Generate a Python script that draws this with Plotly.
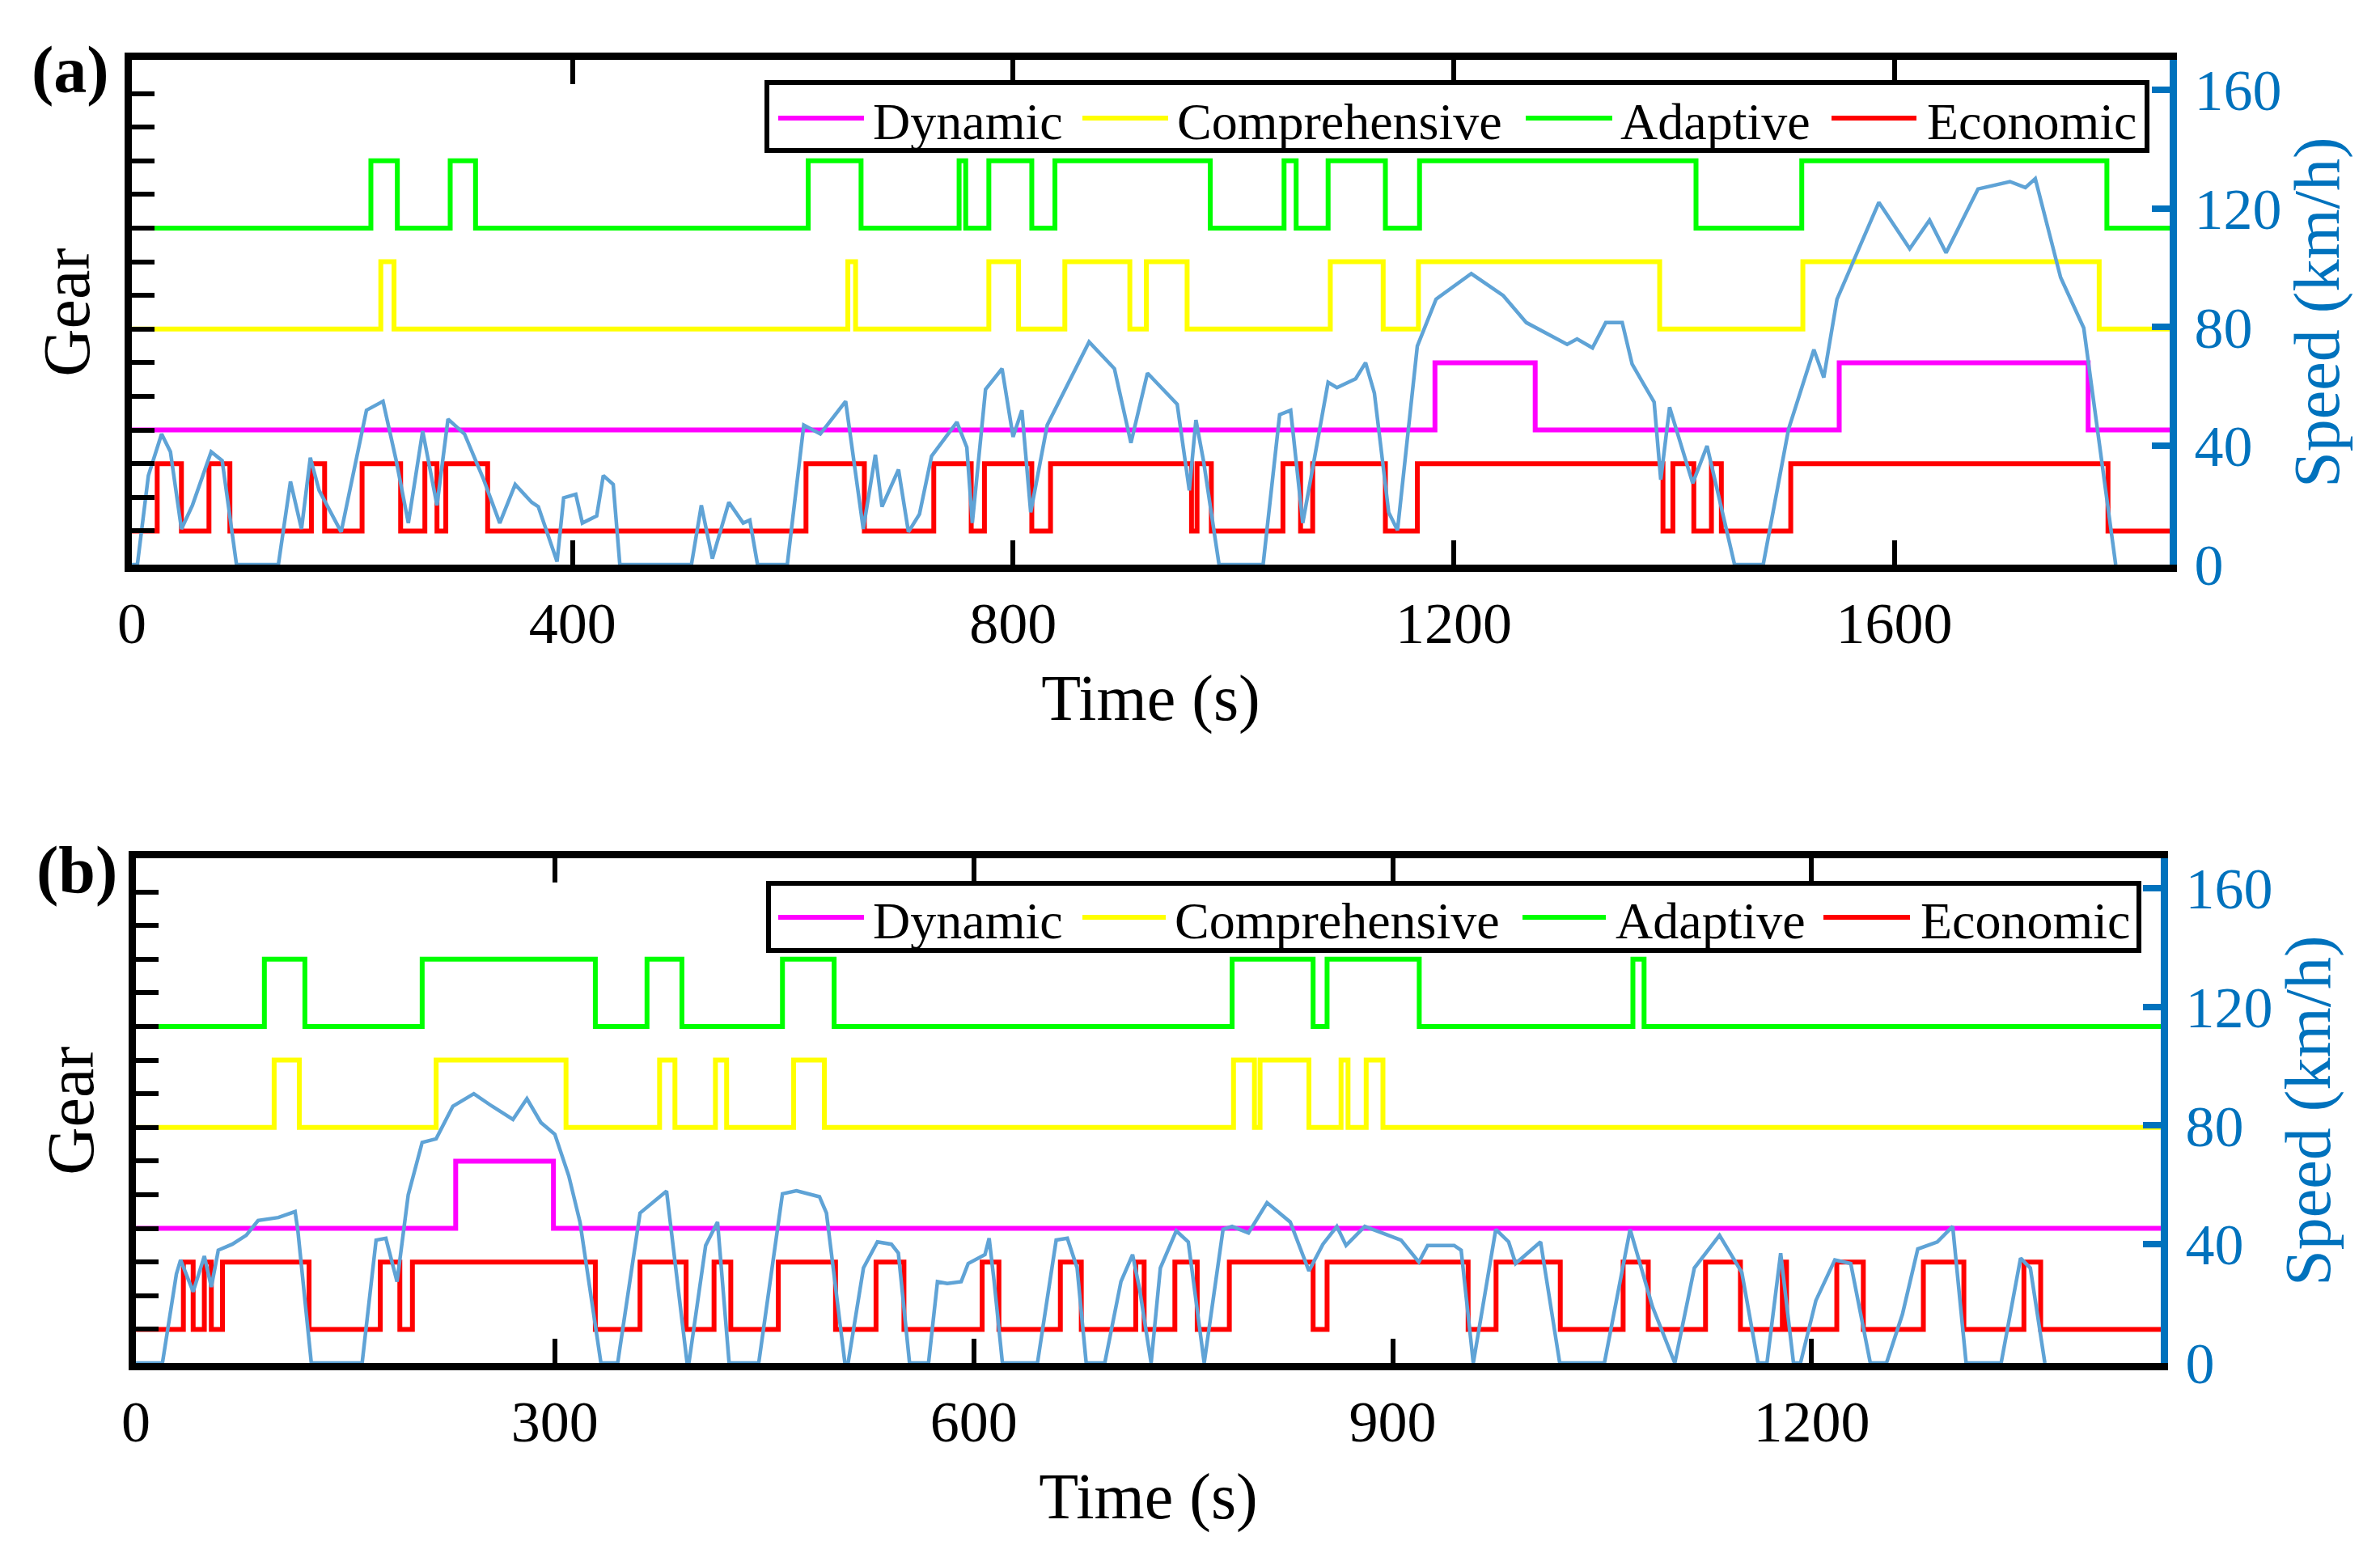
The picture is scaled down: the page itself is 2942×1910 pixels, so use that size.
import plotly.graph_objects as go

# ---------------- data ----------------
# Panel (a): gear change points (time s, gear-level value)
a_dyn_t = [0, 1183, 1274, 1550, 1776, 1850]
a_dyn_g = [4, 6, 4, 6, 4, 4]

a_com_t = [0, 226, 238, 650, 657, 778, 805, 847, 906, 921, 958, 1088, 1136, 1168, 1387, 1517, 1786, 1850]
a_com_g = [7, 9, 7, 9, 7, 9, 7, 9, 7, 9, 7, 9, 7, 9, 7, 9, 7, 7]

a_ada_t = [0, 217, 241, 289, 312, 614, 662, 751, 757, 778, 817, 838, 979, 1046, 1057, 1086, 1138, 1169,
           1420, 1516, 1793, 1850]
a_ada_g = [10, 12, 10, 12, 10, 12, 10, 12, 10, 12, 10, 12, 10, 12, 10, 12, 10, 12, 10, 12, 10, 10]

a_eco_t = [0, 23, 45, 70, 89, 163, 175, 209, 244, 266, 277, 285, 323, 612, 665, 728, 762, 774, 817, 834,
           962, 967, 980, 1045, 1061, 1072, 1138, 1167, 1390, 1399, 1418, 1434, 1443, 1506, 1794, 1850]
a_eco_g = [1, 3, 1, 3, 1, 3, 1, 3, 1, 3, 1, 3, 1, 3, 1, 3, 1, 3, 1, 3,
           1, 3, 1, 3, 1, 3, 1, 3, 1, 3, 1, 3, 1, 3, 1, 1]

# Panel (a): vehicle speed (km/h)
a_spd_t = [0, 5, 15, 27, 35, 45, 55, 72, 82, 95, 133, 144, 154, 162, 170, 190, 213, 228, 240, 251,
           264, 277, 287, 302, 319, 334, 348, 363, 369, 386, 392, 403, 409, 422, 428, 437, 443, 508,
           517, 527, 542, 555, 561, 568, 595, 610, 625, 648, 664, 675, 681, 696, 705, 715, 726, 749,
           758, 763, 775, 790, 800, 808, 816, 831, 869, 892, 907, 922, 949, 960, 966, 973, 987, 1027,
           1042, 1052, 1063, 1086, 1094, 1111, 1120, 1128, 1141, 1149, 1167, 1184, 1216, 1245, 1266,
           1303, 1312, 1326, 1338, 1353, 1362, 1382, 1388, 1396, 1417, 1430, 1455, 1481, 1504, 1527,
           1536, 1548, 1586, 1614, 1632, 1647, 1676, 1705, 1719, 1728, 1751, 1772, 1801]
a_spd_v = [0, 0, 30, 44, 38, 12, 20, 38, 35, 0, 0, 28, 12, 36, 25, 11, 52, 55, 35, 14,
           45, 20, 49, 44, 29, 14, 27, 21, 19.5, 1, 22.5, 23.7, 14, 16.4, 30, 27, 0, 0,
           20, 2, 21, 14, 15, 0, 0, 47, 44, 55, 12, 37, 19.5, 32, 11, 17, 36.5, 48,
           39.5, 14, 59, 66, 43, 52, 17.6, 47, 75, 66, 41, 64.5, 54, 25, 48.7, 34.7, 0, 0,
           50.5, 52, 14, 61.4, 59.6, 62.6, 68, 57.8, 17.6, 11.6, 73.6, 89.4, 98, 90.6, 81.5,
           74.2, 76, 73, 81.5, 81.5, 67.5, 54.7, 28.6, 53, 27.4, 40, 0, 0, 45.6, 72.4,
           63, 89.4, 122, 106.4, 116, 105, 126.5, 129, 127, 130, 96.7, 79.7, 0]

# Panel (b): gear change points
b_dyn_t = [0, 229, 299, 1450]
b_dyn_g = [4, 6, 4, 4]

b_com_t = [0, 99, 117, 215, 308, 375, 386, 415, 423, 471, 493, 786, 801, 805, 840, 863, 868, 881, 893, 1450]
b_com_g = [7, 9, 7, 9, 7, 9, 7, 9, 7, 9, 7, 9, 7, 9, 7, 9, 7, 9, 7, 7]

b_ada_t = [0, 92, 121, 205, 329, 366, 391, 463, 500, 785, 843, 853, 919, 1072, 1080, 1450]
b_ada_g = [10, 12, 10, 12, 10, 12, 10, 12, 10, 12, 10, 12, 10, 12, 10, 10]

b_eco_t = [0, 34, 41, 49, 54, 62, 124, 175, 189, 198, 329, 361, 394, 414, 426, 460, 501, 530, 550, 606,
           618, 662, 677, 716, 722, 744, 760, 783, 843, 853, 954, 974, 1020, 1065, 1083, 1124, 1149,
           1179, 1182, 1218, 1237, 1280, 1309, 1352, 1364, 1450]
b_eco_g = [1, 3, 1, 3, 1, 3, 1, 3, 1, 3, 1, 3, 1, 3, 1, 3, 1, 3, 1, 3,
           1, 3, 1, 3, 1, 3, 1, 3, 1, 3, 1, 3, 1, 3, 1, 3, 1,
           3, 1, 3, 1, 3, 1, 3, 1, 1]

# Panel (b): vehicle speed (km/h)
b_spd_t = [0, 19, 29, 32, 41, 49, 54, 59, 69, 79, 87.5, 102, 114, 116, 125.6, 162, 172, 179, 187, 195,
           205, 215, 227, 242, 255, 270, 280, 290, 300, 310, 318, 333, 345, 361, 380, 394.7, 396, 408,
           416.5, 424.8, 446, 463, 473, 489.5, 494.5, 507.7, 510, 521, 531, 541, 546, 554, 567.6, 574,
           581, 591, 596, 608, 611, 614.6, 620.5, 645.6, 659, 667, 674, 680.5, 693.8, 705.4, 713.7,
           718.7, 727, 733.6, 745, 753.6, 765, 778.5, 785, 796.7, 810, 826.6, 840, 850, 860, 866.6,
           880, 893, 906, 918.7, 925, 944, 949, 957.7, 973.8, 983, 988, 1005.9, 1019.6, 1051.6, 1070,
           1086, 1102, 1116, 1134, 1150, 1161.6, 1168, 1177.8, 1187, 1192, 1203, 1216.6, 1228, 1242,
           1253.6, 1265, 1276, 1290, 1301, 1310.6, 1335.7, 1349.6, 1356.6, 1367]
b_spd_v = [0, 0, 30, 34.7, 24, 36, 25.6, 38, 40, 43, 48, 49, 51, 44.5, 0, 0, 41.4, 42, 27.4, 56.6,
           74.3, 75.5, 86.5, 90.7, 86.5, 82, 89, 81, 77, 63, 47.5, 0, 0, 50.5, 57.9, 0, 0, 39.6,
           47.5, 0, 0, 57, 58, 56, 50.5, 0, 0, 32, 40.8, 40, 37, 0, 0, 27.4,
           26.8, 27.4, 33.5, 36.5, 42, 27.4, 0, 0, 41.4, 42, 32, 0, 0, 27.4, 36.5,
           25, 0, 32, 44.5, 40.8, 0, 45, 46, 43.8, 54, 47.5, 31, 40, 46, 39.6,
           46, 43.8, 41.4, 34, 39.6, 39.6, 38, 0, 45, 40.8, 33.5, 40.8, 0, 0, 45,
           19, 0, 32, 43, 30.5, 0, 0, 37, 0, 0, 21, 34.7, 33.5, 0,
           0, 16.4, 38.4, 40.8, 46, 0, 0, 35.3, 32, 0]

# series names / colours
names = ["Dynamic", "Comprehensive", "Adaptive", "Economic"]
colors = ["#FF00FF", "#FFFF00", "#00FF00", "#FF0000"]
speed_color = "#5FA3D6"
axis_blue = "#0072BD"

# ---------------- figure ----------------
W, H = 2942, 1910
FONT = "Liberation Serif"


def px(x):
    return x / W


def py(y):
    return 1 - y / H


fig = go.Figure()

panels = [
    (("x", "y", "y2"), [(a_dyn_t, a_dyn_g), (a_com_t, a_com_g), (a_ada_t, a_ada_g), (a_eco_t, a_eco_g)],
     (a_spd_t, a_spd_v)),
    (("x2", "y3", "y4"), [(b_dyn_t, b_dyn_g), (b_com_t, b_com_g), (b_ada_t, b_ada_g), (b_eco_t, b_eco_g)],
     (b_spd_t, b_spd_v)),
]

for (xa, yg, ys), gears, spd in panels:
    for (t, g), nm, c in zip(gears, names, colors):
        fig.add_trace(go.Scatter(x=t, y=g, mode="lines", line=dict(color=c, width=6, shape="hv"),
                                 name=nm, showlegend=False, xaxis=xa, yaxis=yg))
    fig.add_trace(go.Scatter(x=spd[0], y=spd[1], mode="lines", line=dict(color=speed_color, width=4.5),
                             name="Speed", showlegend=False, xaxis=xa, yaxis=ys))

tickfont = dict(family=FONT, size=72, color="black")
titlefont = dict(family=FONT, size=80, color="black")


def xaxis_cfg(dom, anchor, rng, tv):
    return dict(domain=dom, anchor=anchor, range=rng, tickvals=tv, ticks="inside", ticklen=30,
                tickwidth=6, tickcolor="black", mirror="ticks", showline=True, linecolor="black",
                linewidth=9, showgrid=False, zeroline=False, tickfont=tickfont, automargin=False,
                ticklabelstandoff=2,
                title=dict(text="Time (s)", font=titlefont, standoff=27))


def gear_cfg(dom, anchor):
    return dict(domain=dom, anchor=anchor, range=[0, 15], tick0=0, dtick=1, ticks="inside", ticklen=28,
                tickwidth=6, tickcolor="black", showticklabels=False, showline=True, linecolor="black",
                linewidth=9, showgrid=False, zeroline=False, automargin=False,
                title=dict(text="Gear", font=dict(family=FONT, size=82, color="black"), standoff=20))


def speed_cfg(over, anchor):
    return dict(overlaying=over, anchor=anchor, side="right", range=[0, 170], tickvals=[0, 40, 80, 120, 160],
                ticks="inside", ticklen=22, tickwidth=8, tickcolor=axis_blue, showline=True,
                linecolor=axis_blue, linewidth=9, showgrid=False, zeroline=False, automargin=False,
                tickfont=dict(family=FONT, size=72, color=axis_blue), ticklabelstandoff=7,
                title=dict(text="Speed (km/h)", font=dict(family=FONT, size=80, color=axis_blue), standoff=12))


fig.update_layout(
    width=W, height=H, margin=dict(l=0, r=0, t=0, b=0, autoexpand=False),
    paper_bgcolor="white", plot_bgcolor="white", showlegend=False,
    xaxis=xaxis_cfg([px(163), px(2682)], "y", [0, 1850], [0, 400, 800, 1200, 1600]),
    yaxis=gear_cfg([py(698), py(74)], "x"),
    yaxis2=speed_cfg("y", "x"),
    xaxis2=xaxis_cfg([px(168), px(2671)], "y3", [0, 1450], [0, 300, 600, 900, 1200]),
    yaxis3=gear_cfg([py(1685), py(1061)], "x2"),
    yaxis4=speed_cfg("y3", "x2"),
)

# ---------------- legends (drawn boxes) ----------------
shapes = []
annotations = []
legend_specs = [
    ((948, 102, 2654, 186), 146, [(962, 1068, 1077), (1338, 1444, 1453), (1886, 1993, 2001), (2264, 2369, 2380)]),
    ((950, 1092, 2644, 1175), 1134, [(962, 1068, 1077), (1338, 1441, 1450), (1882, 1985, 1995), (2254, 2361, 2372)]),
]
for (x0, y0, x1, y1), yc, items in legend_specs:
    shapes.append(dict(type="rect", xref="paper", yref="paper", x0=px(x0), x1=px(x1), y0=py(y1), y1=py(y0),
                       fillcolor="white", line=dict(color="black", width=6), layer="above"))
    for (lx0, lx1, tx), nm, c in zip(items, names, colors):
        shapes.append(dict(type="line", xref="paper", yref="paper", x0=px(lx0), x1=px(lx1), y0=py(yc), y1=py(yc),
                           line=dict(color=c, width=6), layer="above"))
        annotations.append(dict(text=nm, xref="paper", yref="paper", x=px(tx), y=py(yc + 4), xanchor="left",
                                yanchor="middle", showarrow=False, font=dict(family=FONT, size=64, color="black")))

annotations.append(dict(text="<b>(a)</b>", xref="paper", yref="paper", x=px(87), y=py(87), xanchor="center",
                        yanchor="middle", showarrow=False, font=dict(family=FONT, size=82, color="black")))
annotations.append(dict(text="<b>(b)</b>", xref="paper", yref="paper", x=px(95), y=py(1075), xanchor="center",
                        yanchor="middle", showarrow=False, font=dict(family=FONT, size=82, color="black")))

fig.update_layout(shapes=shapes, annotations=annotations)

fig.write_html("out.html")
